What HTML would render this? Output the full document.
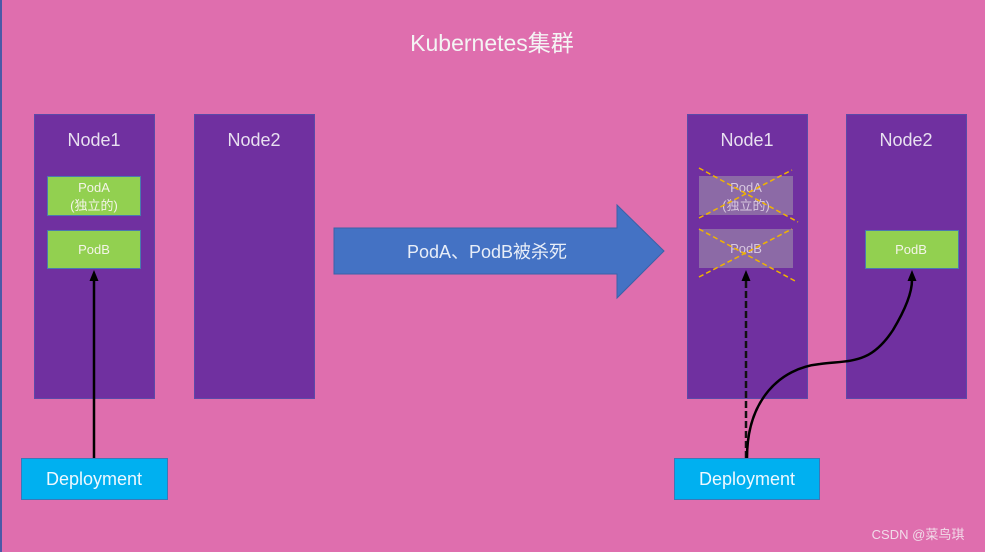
<!DOCTYPE html>
<html><head><meta charset="utf-8"><style>
html,body{margin:0;padding:0;width:985px;height:552px;overflow:hidden;background:#df6eae;}
svg{display:block}
text{font-family:"Liberation Sans","Noto Sans CJK SC",sans-serif;}
</style></head><body>
<svg width="985" height="552" viewBox="0 0 985 552" xmlns="http://www.w3.org/2000/svg">
<rect x="0" y="0" width="985" height="552" fill="#df6eae"/>
<line x1="1" y1="0" x2="1" y2="552" stroke="#4a5aa8" stroke-width="2"/>
<text x="492" y="51" font-size="23" fill="#f4f4f4" text-anchor="middle">Kubernetes集群</text>

<g stroke="#5b4aa8" stroke-width="1" fill="#7030a0">
<rect x="34.5" y="114.5" width="120" height="284"/>
<rect x="194.5" y="114.5" width="120" height="284"/>
<rect x="687.5" y="114.5" width="120" height="284"/>
<rect x="846.5" y="114.5" width="120" height="284"/>
</g>
<g font-size="18" fill="#e8e0f0" text-anchor="middle">
<text x="94" y="146">Node1</text>
<text x="254" y="146">Node2</text>
<text x="747" y="146">Node1</text>
<text x="906" y="146">Node2</text>
</g>

<g fill="#92d050" stroke="#4a78b0" stroke-width="1">
<rect x="47.5" y="176.5" width="93" height="39"/>
<rect x="47.5" y="230.5" width="93" height="38"/>
<rect x="865.5" y="230.5" width="93" height="38"/>
</g>
<g font-size="13" fill="#f4f4e8" text-anchor="middle">
<text x="94" y="192">PodA</text>
<text x="94" y="210">(独立的)</text>
<text x="94" y="254">PodB</text>
<text x="911" y="254">PodB</text>
</g>

<g fill="#8c6aa6">
<rect x="699" y="176" width="94" height="39"/>
<rect x="699" y="229" width="94" height="39"/>
</g>
<g font-size="13" fill="#d8c8e0" text-anchor="middle">
<text x="746" y="192">PodA</text>
<text x="746" y="210">(独立的)</text>
<text x="746" y="253">PodB</text>
</g>
<g stroke="#f0b400" stroke-width="1.5" stroke-dasharray="5,3">
<line x1="699" y1="168" x2="798" y2="222"/>
<line x1="699" y1="218" x2="792" y2="170"/>
<line x1="699" y1="229" x2="797" y2="282"/>
<line x1="699" y1="277" x2="792" y2="229"/>
</g>

<polygon points="334,228 617,228 617,205 664,251 617,298 617,274 334,274" fill="#4472c4" stroke="#3a62a8" stroke-width="1"/>
<text x="487" y="258" font-size="18" fill="#e8eef8" text-anchor="middle">PodA、PodB被杀死</text>

<g fill="#00b0f0" stroke="#3a78b8" stroke-width="1">
<rect x="21.5" y="458.5" width="146" height="41"/>
<rect x="674.5" y="458.5" width="145" height="41"/>
</g>
<g font-size="18" fill="#eef8ff" text-anchor="middle">
<text x="94" y="485">Deployment</text>
<text x="747" y="485">Deployment</text>
</g>

<line x1="94" y1="458" x2="94" y2="280" stroke="#000" stroke-width="2.5"/>
<polygon points="94,270 89.5,281 98.5,281" fill="#000"/>
<line x1="746" y1="458" x2="746" y2="280" stroke="#111" stroke-width="2.5" stroke-dasharray="7,3"/>
<polygon points="746,270 741.5,281 750.5,281" fill="#000"/>
<path d="M747,458 C747,400 780,368 820,364 C850,360 870,365 893,330 C908,305 912,290 912,280" fill="none" stroke="#000" stroke-width="2.5"/>
<polygon points="912,270 907.5,281 916.5,281" fill="#000"/>

<text x="918" y="539" font-size="13" fill="#f4e8f0" text-anchor="middle" opacity="0.9">CSDN @菜鸟琪</text>
</svg>
</body></html>
